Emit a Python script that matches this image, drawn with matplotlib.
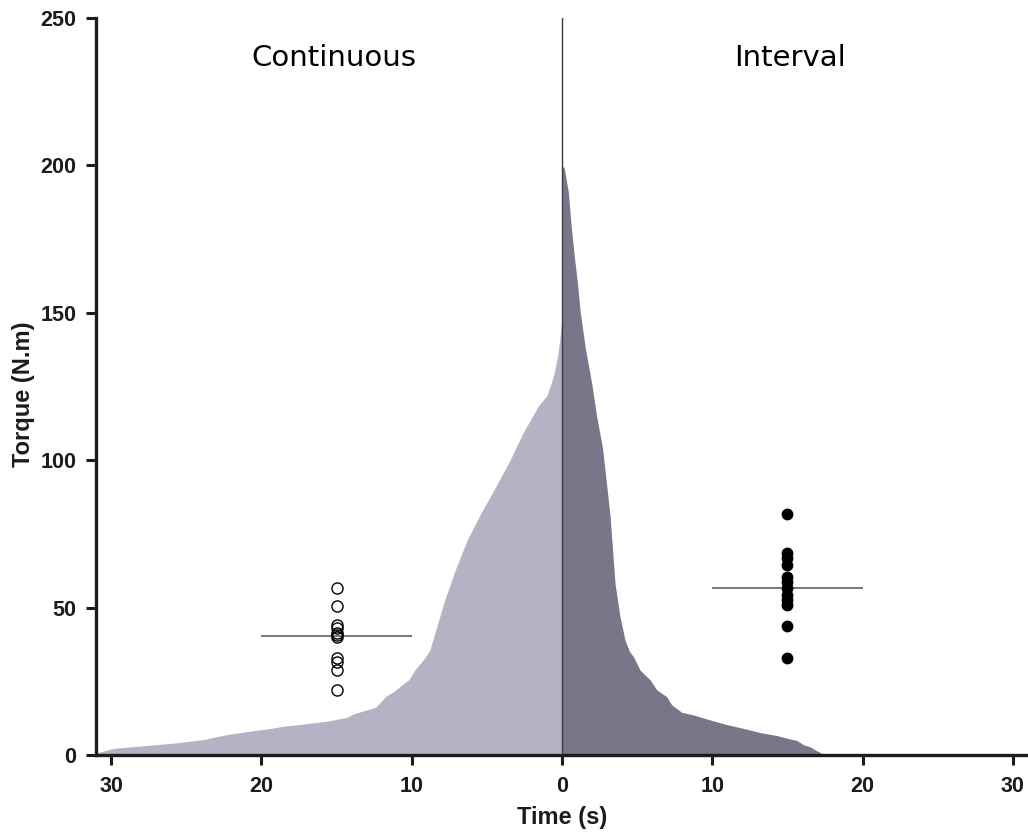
import numpy as np
import matplotlib
matplotlib.use("Agg")
import matplotlib.pyplot as plt

# continuous: seconds before task end (drawn to the left of 0) and torque
cont_time = [30.9, 29.8, 27.7, 25.5, 23.8, 23.2, 22.2, 21.0, 19.4, 18.5, 17.2,
             15.6, 14.3, 13.9, 13.0, 12.4, 11.7, 11.2, 10.8, 10.2, 9.8, 9.2,
             8.8, 8.4, 7.8, 7.1, 6.3, 5.4, 4.4, 3.45, 2.6, 1.6, 1.0, 0.6, 0.3,
             0.15, 0.05, 0.0]
cont_torque = [0.8, 2.3, 3.2, 4.2, 5.3, 6.0, 7.0, 7.9, 9.0, 9.8, 10.5,
               11.5, 12.8, 13.9, 15.3, 16.2, 20.0, 21.5, 23.2, 25.5, 28.8, 32.5,
               35.5, 42.4, 52.6, 62.8, 73.0, 82.0, 91.1, 100.1, 109.2, 118.2, 122.0,
               128.0, 135.0, 141.0, 146.0, 147.0]

# interval
int_time = [0.0, 0.15, 0.42, 0.6, 0.8, 1.03, 1.22, 1.55, 1.98, 2.3, 2.7, 3.2,
            3.53, 3.86, 4.19, 4.5, 4.75, 5.19, 5.86, 6.3, 6.96, 7.3, 7.96, 8.74,
            9.85, 10.9, 12.1, 13.2, 14.3, 15.1, 15.6, 16.1, 16.5, 16.9, 17.3, 17.4]
int_torque = [200.0, 199.0, 191.0, 180.0, 170.0, 160.0, 150.0, 138.0, 126.0, 115.0,
              104.0, 81.0, 58.0, 46.9, 39.0, 35.0, 33.4, 28.8, 25.5, 22.1, 19.8,
              17.0, 14.5, 13.6, 11.9, 10.4, 9.0, 7.6, 6.6, 5.5, 5.0, 3.4, 2.8,
              1.6, 0.5, 0.0]

# individual values and group means
cont_points = [56.6, 50.4, 44.1, 43.0, 41.5, 40.2, 40.6, 32.8, 31.7, 28.9, 22.1]
cont_mean = 40.4
int_points = [81.8, 68.5, 66.8, 64.5, 60.5, 58.8, 56.6, 54.3, 52.6, 50.9, 43.6, 32.8]
int_mean = 56.5

point_time = 15
mean_half_width = 5

x_ticks = [-30, -20, -10, 0, 10, 20, 30]
y_ticks = [0, 50, 100, 150, 200, 250]

light = "#b4b3c6"
dark = "#78778a"
ink = "#1c1c1c"

fig = plt.figure(figsize=(10.28, 8.34), dpi=100)
ax = fig.add_axes([0.0934, 0.0947, 0.9066, 0.8837])

cx = -np.array(cont_time)
ax.fill_between(cx, 0, cont_torque, color=light, linewidth=0)
ax.fill_between(int_time, 0, int_torque, color=dark, linewidth=0)

ax.axvline(0, ymin=0, ymax=1, color="#3a3a44", linewidth=1.0, zorder=3)

# means
ax.hlines(cont_mean, -point_time - mean_half_width, -point_time + mean_half_width,
          color="#555555", linewidth=1.1, zorder=3)
ax.hlines(int_mean, point_time - mean_half_width, point_time + mean_half_width,
          color="#555555", linewidth=1.1, zorder=3)

# points
ax.plot([-point_time] * len(cont_points), cont_points, "o", markersize=8,
        markerfacecolor="none", markeredgecolor="black", markeredgewidth=1.0, zorder=4)
ax.plot([point_time] * len(int_points), int_points, "o", markersize=7.5,
        markerfacecolor="black", markeredgecolor="black", zorder=4)

ax.text(-15.2, 236.6, "Continuous", fontsize=21, ha="center", va="center",
        family="DejaVu Sans", color="black")
ax.text(15.2, 236.6, "Interval", fontsize=21, ha="center", va="center",
        family="DejaVu Sans", color="black")

ax.set_xlim(-31, 31)
ax.set_ylim(0, 250)

for side in ["top", "right"]:
    ax.spines[side].set_visible(False)
for side in ["left", "bottom"]:
    ax.spines[side].set_linewidth(2.4)
    ax.spines[side].set_color(ink)

ax.set_xticks(x_ticks)
ax.set_xticklabels([str(abs(t)) for t in x_ticks])
ax.set_yticks(y_ticks)
ax.tick_params(axis="both", length=7, width=2.2, color=ink, labelcolor=ink,
               labelsize=15.5)
ax.tick_params(axis="x", pad=8)
ax.tick_params(axis="y", pad=7)
for lab in ax.get_xticklabels() + ax.get_yticklabels():
    lab.set_fontweight("bold")
    lab.set_family("Liberation Sans")

ax.set_xlabel("Time (s)", fontsize=17, fontweight="bold", family="Liberation Sans",
              color=ink)
ax.set_ylabel("Torque (N.m)", fontsize=17, fontweight="bold", family="Liberation Sans",
              color=ink)
ax.xaxis.set_label_coords(0.5, -0.0841)
ax.xaxis.label.set_va("center")
ax.yaxis.set_label_coords(-0.078, 0.49)
ax.yaxis.label.set_va("center")

fig.savefig("out.png", dpi=100)
